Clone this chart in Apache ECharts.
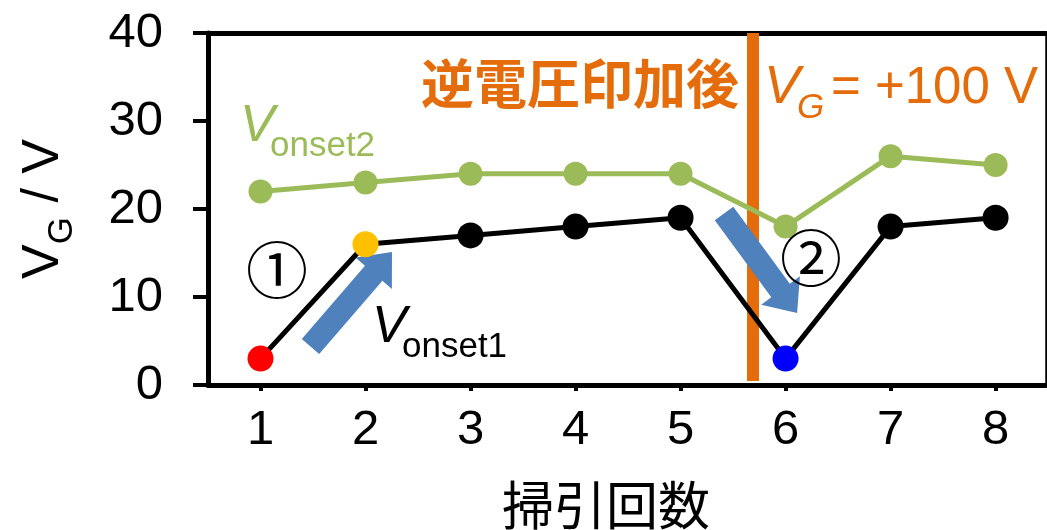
<!DOCTYPE html>
<html>
<head>
<meta charset="utf-8">
<title>掃引回数とオンセット電圧</title>
<script src="https://cdn.jsdelivr.net/npm/echarts@6/dist/echarts.min.js"></script>
<style>
  html, body { margin: 0; padding: 0; background: #fff; }
  #chart { width: 1047px; height: 530px; }
</style>
</head>
<body>
<div id="chart"></div>
<script>
// Sweep number and the two onset voltages measured on each sweep (V)
const sweeps = [1, 2, 3, 4, 5, 6, 7, 8];
const vOnset1 = [3, 16, 17, 18, 19, 3, 18, 19];
const vOnset2 = [22, 23, 24, 24, 24, 18, 26, 25];
const yTicks = [0, 10, 20, 30, 40];

// Reverse-bias event between sweep 5 and sweep 6
const reverseAt = 5.69;
// Trend arrows: [fromSweep, fromV, toSweep, toV]
const trendArrows = [
  [1.476, 4.38, 2.252, 15.11],
  [5.414, 19.49, 6.11, 8.18]
];

const LATIN = "'Liberation Sans', Arial, sans-serif";
const CJK = "'Noto Sans CJK JP', 'Noto Sans CJK SC', sans-serif";
const ORANGE = '#E46C0A';
const GREEN = '#9BBB59';
const ARROW = '#4F81BD';
const pointColors = { 0: '#FF0000', 1: '#FFC000', 5: '#0000FF' };

const chart = echarts.init(document.getElementById('chart'), null, { renderer: 'canvas' });

const onset1Data = sweeps.map((s, i) => {
  const item = { value: [s, vOnset1[i]] };
  if (pointColors[i]) item.itemStyle = { color: pointColors[i] };
  return item;
});
const onset2Data = sweeps.map((s, i) => [s, vOnset2[i]]);

function arrowShape(params, api) {
  const p0 = api.coord([api.value(0), api.value(1)]);
  const p1 = api.coord([api.value(2), api.value(3)]);
  const dx = p1[0] - p0[0], dy = p1[1] - p0[1];
  const len = Math.sqrt(dx * dx + dy * dy);
  const ux = dx / len, uy = dy / len;
  const nx = -uy, ny = ux;
  const shaft = 11.5, head = 24, headLen = 28;
  const bx = p1[0] - ux * headLen, by = p1[1] - uy * headLen;
  const pts = [
    [p0[0] + nx * shaft, p0[1] + ny * shaft],
    [bx + nx * shaft, by + ny * shaft],
    [bx + nx * head, by + ny * head],
    [p1[0], p1[1]],
    [bx - nx * head, by - ny * head],
    [bx - nx * shaft, by - ny * shaft],
    [p0[0] - nx * shaft, p0[1] - ny * shaft]
  ];
  return { type: 'polygon', shape: { points: pts }, style: { fill: ARROW } };
}

function reverseLine(params, api) {
  const top = api.coord([api.value(0), yTicks[yTicks.length - 1]]);
  const bottom = api.coord([api.value(0), yTicks[0]]);
  return {
    type: 'rect',
    shape: { x: top[0] - 6, y: top[1], width: 12, height: bottom[1] - top[1] - 4 },
    style: { fill: ORANGE }
  };
}

function txt(x, y, text, font, fill) {
  return {
    type: 'text', x: x, y: y, z: 10,
    style: { text: text, font: font, fill: fill, textAlign: 'left', textVerticalAlign: 'middle' }
  };
}

const option = {
  animation: false,
  backgroundColor: '#ffffff',
  grid: { left: 208, right: 1, top: 33, bottom: 145, containLabel: false, outerBoundsMode: 'none' },
  xAxis: [
    {
      type: 'value', min: 0.5, max: 8.48,
      name: '掃引回数', nameLocation: 'middle', nameGap: 94,
      nameTextStyle: { fontFamily: CJK, fontSize: 52, color: '#000', padding: [0, 42, 0, 0] },
      axisLine: { show: true, onZero: false, lineStyle: { color: '#000', width: 5 } },
      axisTick: { show: true, customValues: sweeps, length: 6, lineStyle: { color: '#000', width: 4 } },
      axisLabel: { customValues: sweeps, fontFamily: LATIN, fontSize: 49, color: '#000', margin: 21 },
      splitLine: { show: false }
    },
    {
      type: 'value', min: 0.5, max: 8.48, position: 'top',
      axisLine: { show: true, onZero: false, lineStyle: { color: '#000', width: 5 } },
      axisTick: { show: false }, axisLabel: { show: false }, splitLine: { show: false }
    }
  ],
  yAxis: [
    {
      type: 'value', min: yTicks[0], max: yTicks[yTicks.length - 1], interval: 10,
      name: '{v|V}{g|G}{v| / V}', nameLocation: 'middle', nameGap: 138,
      nameTextStyle: {
        color: '#000',
        rich: {
          v: { fontFamily: LATIN, fontSize: 52, lineHeight: 52, verticalAlign: 'top', color: '#000' },
          g: { fontFamily: LATIN, fontSize: 35, lineHeight: 35, verticalAlign: 'top', padding: [27, 0, 0, 0], color: '#000' }
        }
      },
      axisLine: { show: true, lineStyle: { color: '#000', width: 5 } },
      axisTick: { show: true, length: 15, lineStyle: { color: '#000', width: 4 } },
      axisLabel: { fontFamily: LATIN, fontSize: 49, color: '#000', margin: 45 },
      splitLine: { show: false }
    },
    {
      type: 'value', min: yTicks[0], max: yTicks[yTicks.length - 1], position: 'right',
      axisLine: { show: true, lineStyle: { color: '#000', width: 2.5 } },
      axisTick: { show: false }, axisLabel: { show: false }, splitLine: { show: false }
    }
  ],
  series: [
    {
      name: 'Vonset2', type: 'line', data: onset2Data,
      symbol: 'circle', symbolSize: 24,
      lineStyle: { color: GREEN, width: 5 },
      itemStyle: { color: GREEN }
    },
    {
      name: 'Vonset1', type: 'line', data: onset1Data,
      symbol: 'circle', symbolSize: 26,
      lineStyle: { color: '#000', width: 5 },
      itemStyle: { color: '#000' }
    },
    {
      name: '逆電圧印加', type: 'custom', data: [[reverseAt]],
      renderItem: reverseLine, clip: false
    },
    {
      name: 'trend', type: 'custom', data: trendArrows,
      renderItem: arrowShape, clip: false
    }
  ],
  graphic: [
    txt(421, 84, '逆電圧印加後', 'bold 53px ' + CJK, ORANGE),
    txt(764, 88, 'V', 'italic 54px ' + LATIN, ORANGE),
    txt(797, 108, 'G', 'italic 35px ' + LATIN, ORANGE),
    txt(831, 89, '= +100 V', '51px ' + LATIN, ORANGE),
    txt(240, 127, 'V', 'italic 52px ' + LATIN, GREEN),
    txt(270, 146, 'onset2', '35px ' + LATIN, GREEN),
    txt(372, 328, 'V', 'italic 52px ' + LATIN, '#000'),
    txt(402, 347, 'onset1', '35px ' + LATIN, '#000'),
    txt(246, 270, '①', '62px ' + CJK, '#000'),
    txt(780, 258, '②', '62px ' + CJK, '#000')
  ]
};

chart.setOption(option);
</script>
</body>
</html>
